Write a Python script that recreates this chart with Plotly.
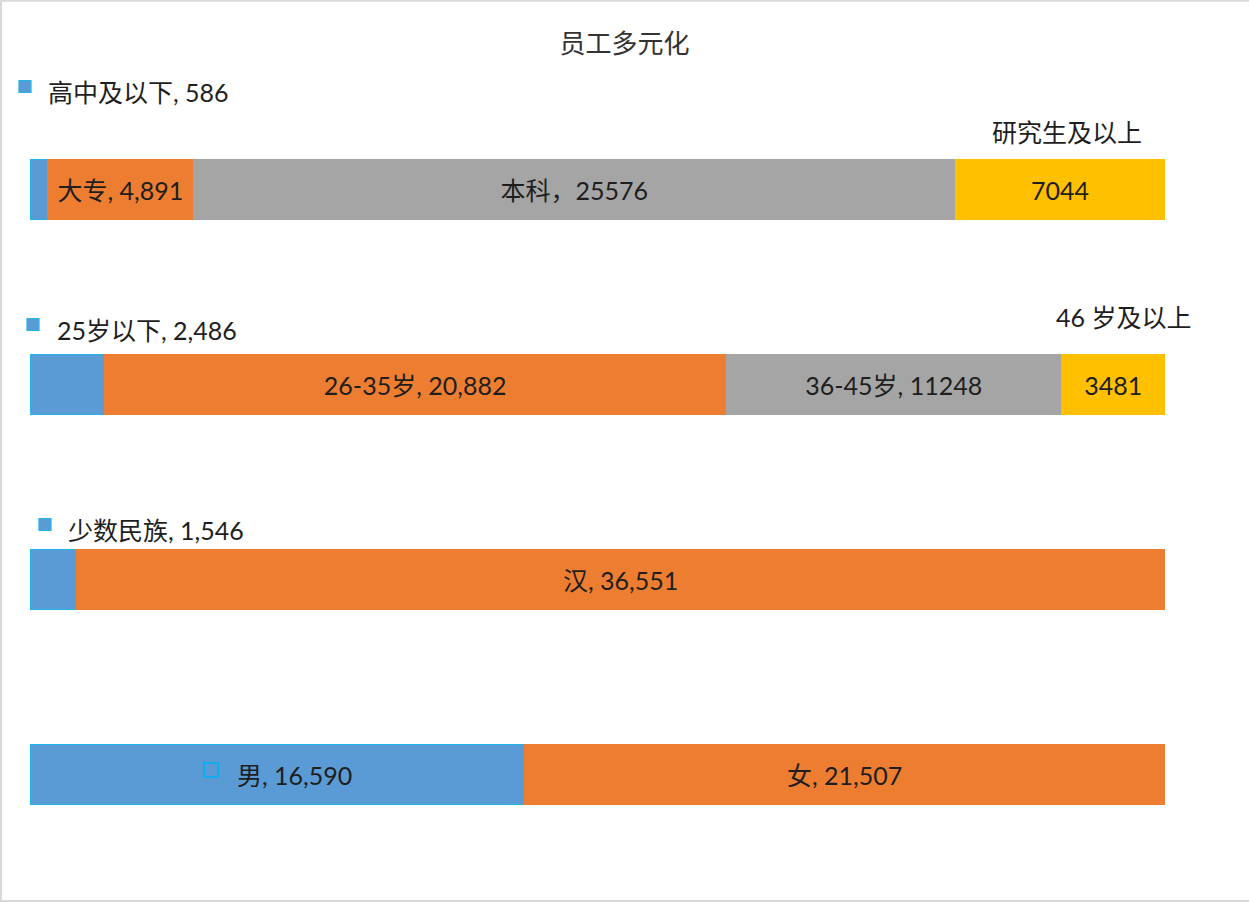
import plotly.graph_objects as go

# ---------------- data ----------------
categories = ["学历", "年龄", "民族", "性别"]

seg1_values = [586, 2486, 1546, 16590]
seg2_values = [4891, 20882, 36551, 21507]
seg3_values = [25576, 11248, 0, 0]
seg4_values = [7044, 3481, 0, 0]

seg1_labels = ["", "", "", "男, 16,590"]
seg2_labels = ["大专, 4,891", "26-35岁, 20,882", "汉, 36,551", "女, 21,507"]
seg3_labels = ["本科，25576", "36-45岁, 11248", "", ""]
seg4_labels = ["7044", "3481", "", ""]

small_labels = ["高中及以下, 586", "25岁以下, 2,486", "少数民族, 1,546"]
top_labels = ["研究生及以上", "46 岁及以上"]

title_text = "员工多元化"

# ---------------- style ----------------
BLUE = "#5B9BD5"
CYAN = "#1FB5EA"
ORANGE = "#ED7D31"
GRAY = "#A5A5A5"
YELLOW = "#FFC000"
TXT = "#1E1E1E"
FONT = "Lato, 'Noto Sans CJK SC', sans-serif"
FS = 25

W, H = 1249, 902
ML, MR, MT, MB = 30, 84, 92, 30
PW, PH = W - ML - MR, H - MT - MB

fig = go.Figure()
series = [
    (seg1_values, BLUE, CYAN, 1.5),
    (seg2_values, ORANGE, ORANGE, 0),
    (seg3_values, GRAY, GRAY, 0),
    (seg4_values, YELLOW, YELLOW, 0),
]
texts_all = [["" for _ in seg1_labels], seg2_labels, seg3_labels, seg4_labels]
for (vals, col, lcol, lw), texts in zip(series, texts_all):
    fig.add_trace(go.Bar(
        y=categories, x=vals, orientation="h",
        marker=dict(color=col, line=dict(color=lcol, width=lw)),
        text=texts, textposition="inside", insidetextanchor="middle",
        textfont=dict(family=FONT, size=FS, color=TXT),
        hoverinfo="skip", showlegend=False,
    ))

total = seg1_values[0] + seg2_values[0] + seg3_values[0] + seg4_values[0]
n = len(categories)


def paper_x(value, dx=0):
    return value / total + dx / PW


def paper_y(idx, dy=0):
    return 1 - (idx + 0.5) / n + dy / PH


def key_rect(xval, idx, dx, dy, size, fill, lcol, lw):
    h = size / 2
    return dict(type="rect", xref="paper", yref="paper",
                x0=paper_x(xval, dx - h), x1=paper_x(xval, dx + h),
                y0=paper_y(idx, dy - h), y1=paper_y(idx, dy + h),
                fillcolor=fill, line=dict(color=lcol, width=lw), layer="above")


annotations = []
shapes = []
# labels for the small first segments (outside, above the bar)
small_text_shift = [(16, 98), (25, 55), (36, 50)]
small_mark_shift = [(-5, 103), (3, 60), (15, 55)]
for i, lab in enumerate(small_labels):
    xs, ys = small_text_shift[i]
    annotations.append(dict(
        x=0, y=categories[i], xref="x", yref="y", text=lab, showarrow=False,
        xanchor="left", yanchor="middle", xshift=xs, yshift=ys,
        font=dict(family=FONT, size=FS, color=TXT)))
    mx, my = small_mark_shift[i]
    shapes.append(key_rect(0, i, mx, my, 12, BLUE, CYAN, 1.2))

# the gender "男" label sits inside its bar with a hollow legend key
g = 3
annotations.append(dict(
    x=seg1_values[g] / 2, y=categories[g], xref="x", yref="y",
    text=seg1_labels[g], showarrow=False, xanchor="center", yanchor="middle",
    xshift=17, yshift=0, font=dict(family=FONT, size=FS, color=TXT)))
shapes.append(key_rect(seg1_values[g] / 2, g, -66, 4.5, 14, "rgba(0,0,0,0)", "#00B0F0", 1.6))

# category names for the last segments (above the bar end)
top_shift = [(7, 58), (10, 68)]
for i, lab in enumerate(top_labels):
    xc = seg1_values[i] + seg2_values[i] + seg3_values[i] + seg4_values[i] / 2
    xs, ys = top_shift[i]
    annotations.append(dict(
        x=xc, y=categories[i], xref="x", yref="y", text=lab, showarrow=False,
        xanchor="center", yanchor="middle", xshift=xs, yshift=ys,
        font=dict(family=FONT, size=FS, color=TXT)))


# light frame (left, top, bottom edges)
def px(xp):
    return (xp - ML) / PW


def py(yp):
    return (H - MB - yp) / PH


frame = dict(color="#D9D9D9", width=2)
shapes += [
    dict(type="line", xref="paper", yref="paper", x0=px(1), x1=px(1), y0=py(901), y1=py(0), line=frame),
    dict(type="line", xref="paper", yref="paper", x0=px(0), x1=px(W), y0=py(0.8), y1=py(0.8), line=frame),
    dict(type="line", xref="paper", yref="paper", x0=px(0), x1=px(W), y0=py(901), y1=py(901), line=frame),
]

fig.update_layout(
    width=W, height=H,
    margin=dict(l=ML, r=MR, t=MT, b=MB),
    paper_bgcolor="white", plot_bgcolor="white",
    barmode="stack", bargap=0.692,
    uniformtext=dict(minsize=FS, mode="show"),
    title=dict(text=title_text, x=0.5, xref="container", xanchor="center",
               y=1 - 44 / H, yref="container", yanchor="middle",
               font=dict(family="'Noto Sans CJK SC', sans-serif", size=26, color="#333333")),
    xaxis=dict(range=[0, total], visible=False, fixedrange=True),
    yaxis=dict(categoryorder="array", categoryarray=categories,
               range=[n - 0.5, -0.5], visible=False, fixedrange=True),
    annotations=annotations,
    shapes=shapes,
)

fig.write_html("out.html", config={"displayModeBar": False},
               post_script="document.body.style.margin='0';document.body.style.overflow='hidden';")
